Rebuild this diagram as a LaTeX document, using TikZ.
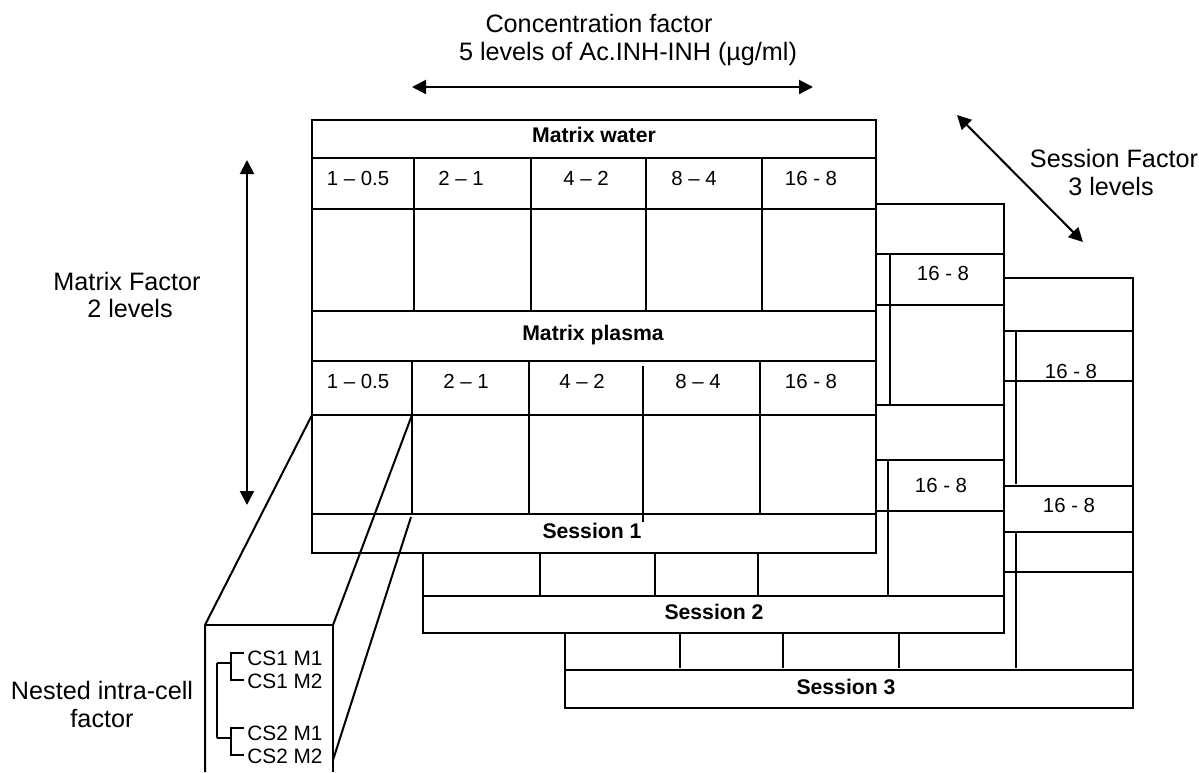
\documentclass[tikz,border=0pt]{standalone}
\usepackage{fontspec}
\setmainfont{Liberation Sans}
\usetikzlibrary{arrows.meta}
\tikzset{
  lbl/.style={font=\fontsize{12.6}{15}\selectfont, inner sep=0pt, anchor=base},
  num/.style={font=\fontsize{10.2}{12}\selectfont, inner sep=0pt, anchor=base},
  cs/.style={font=\fontsize{10.4}{12}\selectfont, inner sep=0pt, anchor=base west},
  hdr/.style={font=\fontsize{10.6}{12}\selectfont\bfseries, inner sep=0pt, anchor=base},
  sheet/.style={draw=black, fill=white, line width=1pt},
  ln/.style={draw=black, line width=1pt},
  dbl/.style={line width=1pt, {Triangle[length=7pt,width=7pt]}-{Triangle[length=7pt,width=7pt]}},
}
\begin{document}
\begin{tikzpicture}[x=0.5pt,y=-0.5pt]
\fill[white] (0,0) rectangle (1199,772);
\useasboundingbox (0,0) rectangle (1199,772);

% ---------- Session 3 (back sheet) ----------
\draw[sheet] (565,278) rectangle (1133,708);
\foreach \y in {331,381,486,532,572,670} { \draw[ln] (565,\y) -- (1133,\y); }
\foreach \x in {680,783,899,1016} { \draw[ln] (\x,331) -- (\x,484) (\x,532) -- (\x,668); }
\node[num] (s3a) at (1071,378) {16 - 8};
\node[num] (s3b) at (1069,512) {16 - 8};
\node[hdr] (s3) at (846,694) {Session 3};

% ---------- Session 2 (middle sheet) ----------
\draw[sheet] (423,204) rectangle (1004,633);
\foreach \y in {254,305,405,460,511,596} { \draw[ln] (423,\y) -- (1004,\y); }
\foreach \x in {540,655,758} { \draw[ln] (\x,254) -- (\x,405) (\x,460) -- (\x,596); }
\draw[ln] (890,254) -- (890,405);
\draw[ln] (888,460) -- (888,597);
\node[num] (s2a) at (943,280) {16 - 8};
\node[num] (s2b) at (941,492) {16 - 8};
\node[hdr] (s2) at (714,619) {Session 2};

% ---------- Session 1 (front sheet) ----------
\draw[sheet] (312,120) rectangle (876,553);
\foreach \y in {158,209,311,361,415,514} { \draw[ln] (312,\y) -- (876,\y); }
\foreach \x in {414,531,646,762} { \draw[ln] (\x,158) -- (\x,311); }
\foreach \x in {412,529,760} { \draw[ln] (\x,361) -- (\x,514); }
\draw[ln] (643,366) -- (643,522);
\node[hdr] (mw) at (594,142) {Matrix water};
\node[hdr] (mp) at (593,340) {Matrix plasma};
\node[hdr] (s1) at (592,538) {Session 1};
\node[num] (w1) at (358,185) {1 – 0.5};
\node[num] (w2) at (461,185) {2 – 1};
\node[num] (w3) at (586,185) {4 – 2};
\node[num] (w4) at (694,185) {8 – 4};
\node[num] (w5) at (811,185) {16 - 8};
\node[num] (p1) at (358,388) {1 – 0.5};
\node[num] (p2) at (466,388) {2 – 1};
\node[num] (p3) at (582,388) {4 – 2};
\node[num] (p4) at (698,388) {8 – 4};
\node[num] (p5) at (811,388) {16 - 8};

% ---------- Nested intra-cell box ----------
\coordinate (c1) at (312,415);
\coordinate (c2) at (412,415);
\coordinate (c3) at (411,517);
\coordinate (b1) at (205,625);
\coordinate (b2) at (333,625);
\coordinate (b3) at (333,760);
\draw[ln] (c1) -- (b1) -- (205,772);
\draw[ln] (b1) -- (b2) -- (333,772);
\draw[ln] (c2) -- (b2);
\draw[ln] (c3) -- (b3);
% tree
\draw[ln] (217,663) -- (217,738);
\draw[ln] (217,663) -- (231,663);
\draw[ln] (217,738) -- (231,738);
\draw[ln] (244,653) -- (231,653) -- (231,680) -- (244,680);
\draw[ln] (244,728) -- (231,728) -- (231,755) -- (244,755);
\node[cs] (cs11) at (247,665) {CS1 M1};
\node[cs] (cs12) at (247,688) {CS1 M2};
\node[cs] (cs21) at (247,740) {CS2 M1};
\node[cs] (cs22) at (247,763) {CS2 M2};

% ---------- Factor labels and arrows ----------
\node[lbl] (cf) at (599,32) {Concentration factor};
\node[lbl] (cl) at (628,60) {5 levels of Ac.INH-INH (µg/ml)};
\coordinate (ha) at (412,87);
\coordinate (hb) at (813,87);
\draw[dbl] (ha) -- (hb);

\node[lbl] (sf) at (1114,167) {Session Factor};
\node[lbl] (sl) at (1111,195) {3 levels};
\coordinate (da) at (957,115);
\coordinate (db) at (1083,242);
\draw[dbl] (da) -- (db);

\node[lbl] (mf) at (127,290) {Matrix Factor};
\node[lbl] (ml) at (130,317) {2 levels};
\coordinate (va) at (247,160);
\coordinate (vb) at (247,505);
\draw[dbl] (va) -- (vb);

\node[lbl] (nf) at (102,699) {Nested intra-cell};
\node[lbl] (nl) at (102,727) {factor};
\end{tikzpicture}
\end{document}
